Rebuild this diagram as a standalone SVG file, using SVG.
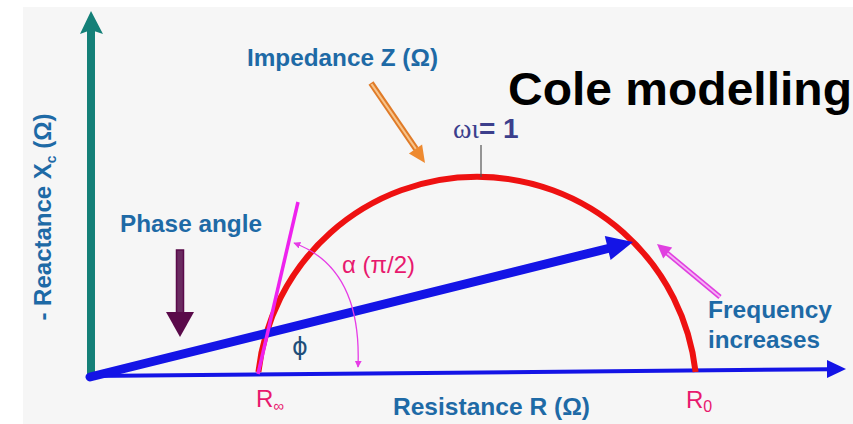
<svg xmlns="http://www.w3.org/2000/svg" width="853" height="424" viewBox="0 0 853 424">
<defs>
<style>
.lbl{font-family:"Liberation Sans",Arial,sans-serif;font-weight:bold;fill:#1e6aa6;}
.pink{font-family:"Liberation Sans",Arial,sans-serif;fill:#e8196e;}
</style>
<marker id="mh" viewBox="0 0 10 10" refX="9" refY="5" markerWidth="7" markerHeight="7" orient="auto-start-reverse" markerUnits="userSpaceOnUse">
<path d="M0,0 L10,5 L0,10 Z" fill="#e63ce6"/>
</marker>
</defs>
<rect x="0" y="0" width="853" height="424" fill="#ffffff"/>
<rect x="23" y="7" width="830" height="417" fill="#f6f6f6"/>

<g id="axes">
<g id="y-axis">
<line x1="91" y1="378" x2="91" y2="30" stroke="#148078" stroke-width="8"/>
<polygon points="91,11 103,34 91,30 80,34" fill="#148078"/>
</g>
<g id="x-axis">
<line x1="90" y1="376" x2="830" y2="369.2" stroke="#1414e6" stroke-width="4"/>
<polygon points="846,369 827,378 827,360" fill="#1414e6"/>
</g>
</g>

<g id="cole-arc">
<path d="M258.4,372 A220,220 0 0 1 695.6,372" fill="none" stroke="#ee1111" stroke-width="6"/>
</g>

<g id="connectors">
<g id="impedance-vector">
<line x1="90" y1="377" x2="610" y2="248" stroke="#1414e6" stroke-width="9" stroke-linecap="round"/>
<polygon points="633,242 610.6,260 604.8,236" fill="#1414e6"/>
</g>
<g id="tangent">
<line x1="258" y1="374" x2="298" y2="202" stroke="#ee22ee" stroke-width="3.5"/>
</g>
<g id="alpha-arc">
<path d="M294,243 Q362,268 358,367" fill="none" stroke="#e63ce6" stroke-width="1.3" marker-start="url(#mh)" marker-end="url(#mh)"/>
</g>
<g id="wt-tick">
<line x1="481" y1="145" x2="481" y2="177" stroke="#555555" stroke-width="1.2"/>
</g>
<g id="impedance-arrow">
<line x1="371" y1="83" x2="416" y2="149" stroke="#e07b28" stroke-width="6"/>
<line x1="371.5" y1="84" x2="416" y2="149" stroke="#f8c48a" stroke-width="2.2"/>
<polygon points="425,163 422.1,144.4 408.9,153.4" fill="#ee8a30"/>
</g>
<g id="phase-arrow">
<rect x="176.5" y="250" width="7" height="63" fill="#6a2a60" stroke="#5a0a4a" stroke-width="1.5"/>
<polygon points="166,312 194,312 180,337" fill="#5a0a4a"/>
</g>
<g id="frequency-arrow">
<line x1="720" y1="297" x2="667" y2="253" stroke="#e040e0" stroke-width="5"/>
<line x1="720" y1="297" x2="667" y2="253" stroke="#f6b0f6" stroke-width="1.8"/>
<polygon points="657,244 672.2,247.6 663.2,258.4" fill="#e040e0"/>
</g>
</g>

<g id="labels">
<text id="title" x="508" y="105" font-family="'Liberation Sans',Arial,sans-serif" font-weight="bold" font-size="47" fill="#000000" textLength="344" lengthAdjust="spacingAndGlyphs">Cole modelling</text>
<text id="impedance-label" class="lbl" x="247" y="66" font-size="24" textLength="191" lengthAdjust="spacingAndGlyphs">Impedance Z (Ω)</text>
<text id="phase-label" class="lbl" x="120" y="232" font-size="24" textLength="142" lengthAdjust="spacingAndGlyphs">Phase angle</text>
<text id="resistance-label" class="lbl" x="393" y="415" font-size="24" textLength="197" lengthAdjust="spacingAndGlyphs">Resistance R (Ω)</text>
<text id="frequency-label" class="lbl" font-size="24"><tspan x="708" y="318" textLength="124" lengthAdjust="spacingAndGlyphs">Frequency</tspan><tspan x="708" y="348" textLength="112" lengthAdjust="spacingAndGlyphs">increases</tspan></text>
<text id="reactance-label" class="lbl" font-size="24" transform="translate(51,217) rotate(-90)" text-anchor="middle">- Reactance X<tspan font-size="14" dy="5">c</tspan><tspan dy="-5"> (Ω)</tspan></text>
<text id="wt-label" x="453" y="138" font-size="28" fill="#3c3f8c"><tspan font-family="'Liberation Serif','Times New Roman',serif">ωι</tspan><tspan font-family="'Liberation Sans',Arial,sans-serif" font-weight="bold">= 1</tspan></text>
<text id="alpha-label" class="pink" x="342" y="273" font-size="24" fill="#e8174a">α (π/2)</text>
<text id="phi-label" x="292" y="355" font-family="'DejaVu Sans','Liberation Serif',serif" font-size="24" fill="#1f4e79">ϕ</text>
<text id="rinf-label" class="pink" x="256" y="407" font-size="24">R<tspan font-size="15" dy="4">∞</tspan></text>
<text id="r0-label" class="pink" x="686" y="408" font-size="24">R<tspan font-size="16" dy="4">0</tspan></text>
</g>
</svg>
